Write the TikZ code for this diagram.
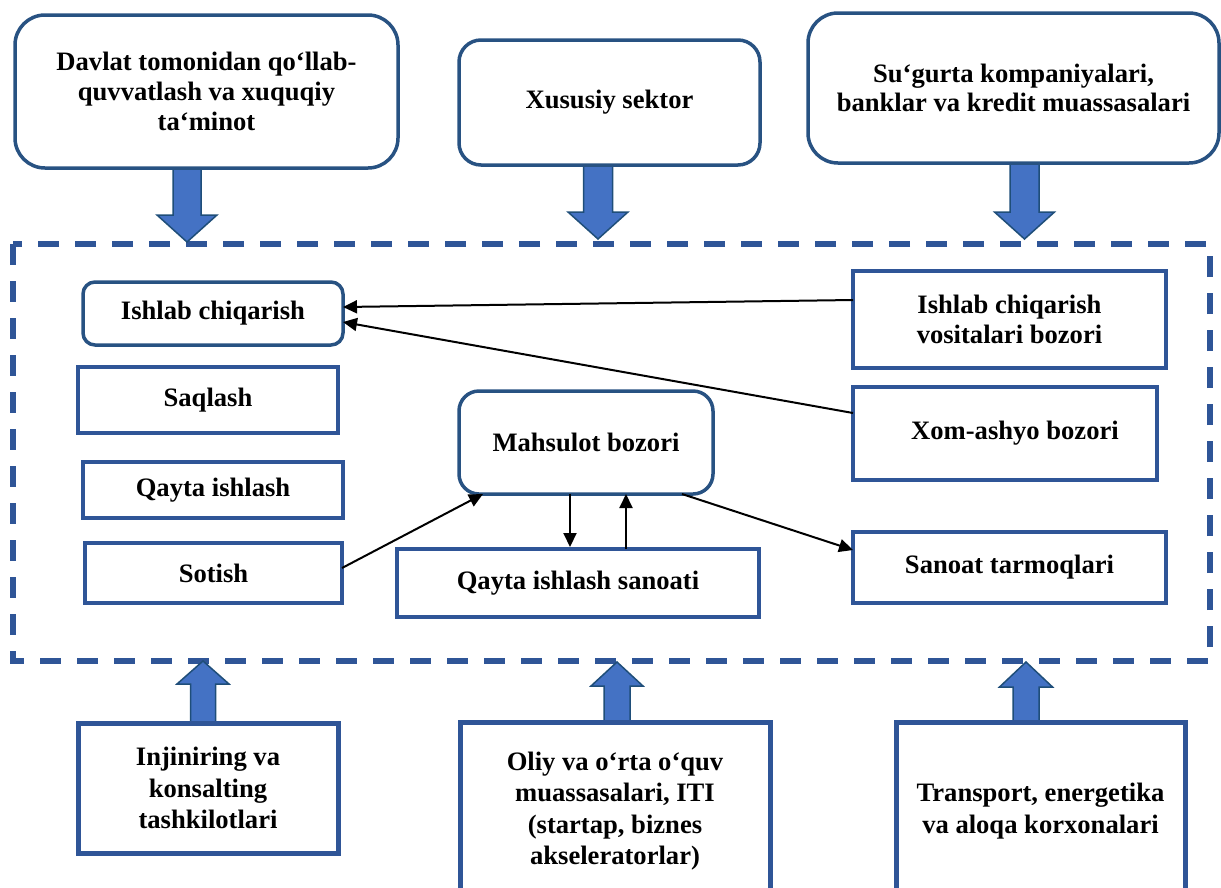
\documentclass[tikz,border=0pt]{standalone}
\usepackage{fontspec}
\setmainfont{Liberation Serif}
\usetikzlibrary{arrows.meta,calc}
\definecolor{rbord}{RGB}{40,82,130}
\definecolor{sbord}{RGB}{47,85,151}
\definecolor{afill}{RGB}{68,114,196}
\definecolor{aedge}{RGB}{31,78,121}
\newcommand\blkdown[6]{\draw[blk] (#1-#5,#2) -- (#1+#5,#2) -- (#1+#5,#3) -- (#1+#6,#3) -- (#1,#4) -- (#1-#6,#3) -- (#1-#5,#3) -- cycle;}
\begin{document}
\begin{tikzpicture}[x=1pt,y=-1pt,
  box/.style={draw, fill=white, inner sep=0pt, outer sep=0pt, align=center,
    font=\fontsize{26.6}{30}\selectfont\bfseries, text=black},
  rbox/.style={box, draw=rbord, line width=3.5pt, rounded corners=#1},
  sbox/.style={box, draw=sbord, line width=3.3pt},
  bbox/.style={box, draw=sbord, line width=5pt, font=\fontsize{26.6}{31.5}\selectfont\bfseries},
  conn/.style={line width=2pt, -{Triangle[length=14pt,width=13pt]}},
  blk/.style={fill=afill, draw=aedge, line width=1.5pt, line join=miter},
  frame/.style={draw=sbord, line width=6pt, dash pattern=on 21pt off 16pt}]
\useasboundingbox (0,0) rectangle (1221,887);
\clip (0,0) rectangle (1221,887);

% dashed frame
\draw[frame] (13,244) rectangle (1210,661);

% block arrows (down)
\blkdown{187}{166}{215}{242}{14}{30}
\blkdown{598}{165}{212}{239}{14.5}{30}
\blkdown{1024.5}{163}{212}{239}{14.5}{30}
% block arrows (up)
\blkdown{203}{722}{684}{661}{12.5}{26}
\blkdown{617}{721}{686}{662}{13}{26}
\blkdown{1026}{721}{687}{662}{13}{26.5}

% top boxes
\node[rbox=30pt, minimum width=383pt, minimum height=153pt] (top1) at (206.5,91.5)
  {Davlat tomonidan qo‘llab-\\quvvatlash va xuquqiy\\ta‘minot};
\node[rbox=22pt, minimum width=301pt, minimum height=125pt] (top2) at (609.5,102.5)
  {Xususiy sektor};
\node[rbox=30pt, minimum width=411pt, minimum height=150pt] (top3) at (1013.5,88)
  {\raisebox{-5pt}{\shortstack{Su‘gurta kompaniyalari,\\[1pt]banklar va kredit muassasalari}}};

% inner boxes
\node[rbox=12pt, minimum width=260pt, minimum height=63pt] (ishlab) at (213,313.5) {Ishlab chiqarish};
\node[sbox, minimum width=260pt, minimum height=66pt] (saqlash) at (208,400) {Saqlash};
\node[sbox, minimum width=260pt, minimum height=56pt] (qayta) at (213,490) {Qayta ishlash};
\node[sbox, minimum width=257pt, minimum height=60pt] (sotish) at (213.5,573) {Sotish};
\node[rbox=20pt, minimum width=254pt, minimum height=103pt] (mahsulot) at (586,442.5) {Mahsulot bozori};
\node[sbox, minimum width=362pt, minimum height=68pt] (sanoati) at (578,583) {Qayta ishlash sanoati};
\node[sbox, minimum width=313pt, minimum height=97pt] (vosit) at (1009.5,319.5) {Ishlab chiqarish\\vositalari bozori};
\node[sbox, minimum width=304pt, minimum height=93pt] (xom) at (1005,433.5) {\hspace*{20pt}Xom-ashyo bozori};
\node[sbox, minimum width=313pt, minimum height=71pt] (sanoat) at (1009.5,567.5) {Sanoat tarmoqlari};

% bottom boxes
\node[bbox, minimum width=260pt, minimum height=130pt] (bot1) at (208,788)
  {Injiniring va\\konsalting\\tashkilotlari};
\node[bbox, minimum width=310pt, minimum height=178pt] (bot2) at (615,811)
  {Oliy va o‘rta o‘quv\\muassasalari, ITI\\(startap, biznes\\akseleratorlar)};
\node[bbox, minimum width=289pt, minimum height=178pt] (bot3) at (1040.5,811)
  {Transport, energetika\\va aloqa korxonalari};

% connectors
\draw[conn] ($(vosit.west)+(0,-19.5)$) -- ($(ishlab.east)+(0,-6.5)$);
\draw[conn] ($(xom.west)+(0,-20.5)$) -- ($(ishlab.east)+(0,8.5)$);
\draw[conn] ($(sotish.east)+(0,-5)$) -- ($(mahsulot.south west)+(24,0)$);
\draw[conn] ($(mahsulot.south)+(-16,0)$) -- ($(sanoati.north)+(-8,-2)$);
\draw[conn] ($(sanoati.north)+(48,0)$) -- ($(mahsulot.south)+(40,0)$);
\draw[conn] ($(mahsulot.south)+(96,0)$) -- ($(sanoat.west)+(0,-17.5)$);
\end{tikzpicture}
\end{document}
